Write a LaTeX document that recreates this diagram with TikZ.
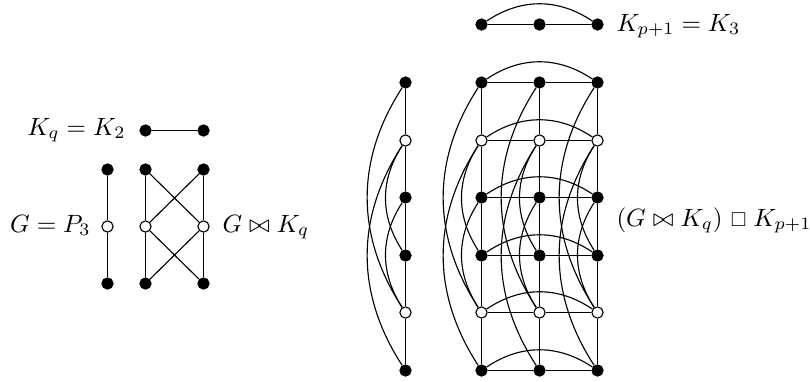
\documentclass[tikz,border=0pt]{standalone}
\usepackage{amssymb}
\usepackage{graphicx}
\newcommand{\smallbox}{\mathbin{\mkern2mu\vcenter{\hbox{\scalebox{0.8}{$\square$}}}\mkern1mu}}
\begin{document}
\begin{tikzpicture}[x=0.4pt,y=0.4pt,
  bv/.style={circle,fill=black,draw=black,line width=0.4pt,inner sep=0pt,minimum size=4.5pt},
  wv/.style={circle,fill=white,draw=black,line width=0.45pt,inner sep=0pt,minimum size=4.5pt},
  edge/.style={line width=0.45pt},
  lab/.style={inner sep=0pt}]
\useasboundingbox (0,0) rectangle (810,-381);
% ---- small graphs ----
\node[bv] (k1) at (145.5,-130.5) {};
\node[bv] (k2) at (203.5,-130.5) {};
\foreach \r/\y/\t in {1/169.5/bv,2/226.5/wv,3/283.5/bv}{
  \node[\t] (p\r) at (107.5,-\y) {};
  \node[\t] (a\r) at (145.5,-\y) {};
  \node[\t] (b\r) at (203.5,-\y) {};
}
\draw[edge] (k1) -- (k2);
\draw[edge] (p1) -- (p2) -- (p3);
\draw[edge] (a1) -- (a2) -- (a3);
\draw[edge] (b1) -- (b2) -- (b3);
\draw[edge] (a1) -- (b2) (a2) -- (b1) (a2) -- (b3) (a3) -- (b2);
% ---- top K3 ----
\node[bv] (t1) at (481.5,-24.5) {};
\node[bv] (t2) at (539.5,-24.5) {};
\node[bv] (t3) at (597.5,-24.5) {};
\draw[edge] (t1) -- (t2) -- (t3);
\draw[edge] (t1) to[bend left=34] (t3);
% ---- big graph ----
\foreach \r/\y/\t in {1/82.5/bv,2/140.5/wv,3/197.5/bv,4/255.5/bv,5/312.5/wv,6/370.5/bv}{
  \node[\t] (l\r) at (405.5,-\y) {};
  \node[\t] (g1\r) at (481.5,-\y) {};
  \node[\t] (g2\r) at (539.5,-\y) {};
  \node[\t] (g3\r) at (597.5,-\y) {};
}
\foreach \X in {l,g1,g2,g3}{
  \draw[edge] (\X1) -- (\X2) -- (\X3) -- (\X4) -- (\X5) -- (\X6);
  \draw[edge] (\X1) to[bend right=33] (\X5);
  \draw[edge] (\X2) to[bend right=33] (\X6);
  \draw[edge] (\X2) to[bend right=33] (\X4);
  \draw[edge] (\X3) to[bend right=33] (\X5);
}
\foreach \r in {1,...,6}{
  \draw[edge] (g1\r) -- (g2\r) -- (g3\r);
  \draw[edge] (g1\r) to[bend left=34] (g3\r);
}
% ---- labels ----
\node[lab,anchor=base east] at (126,-135) {$K_q = K_2$};
\node[lab,anchor=base east] at (91,-232) {$G = P_3$};
\node[lab,anchor=base west] at (222,-232) {$G \bowtie K_q$};
\node[lab,anchor=base west] at (616,-31) {$K_{p+1} = K_3$};
\node[lab,anchor=base west] at (616,-226) {$(G \bowtie K_q) \smallbox K_{p+1}$};
\end{tikzpicture}
\end{document}
